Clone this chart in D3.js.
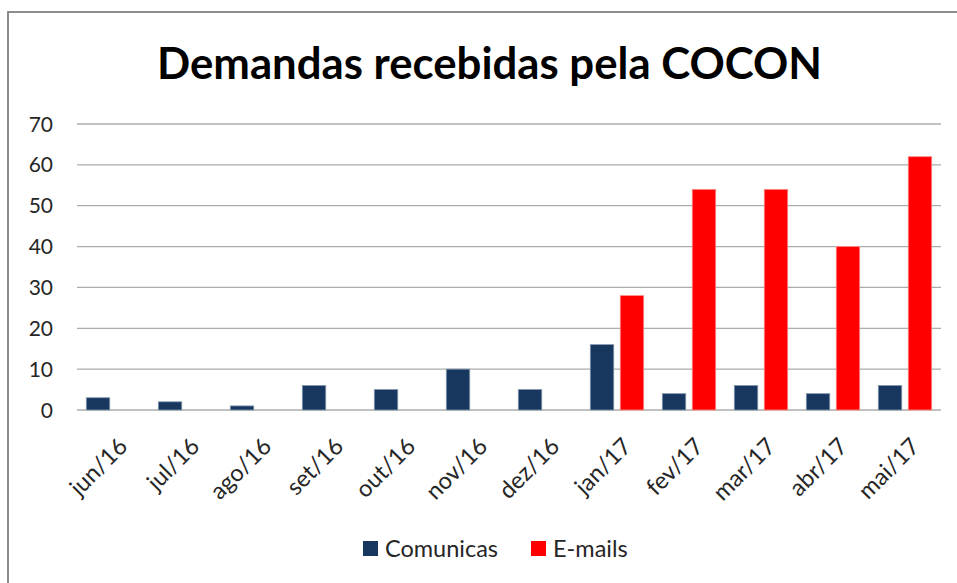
<!DOCTYPE html>
<html lang="pt">
<head>
    <meta charset="UTF-8">
    <title>Demandas recebidas pela COCON</title>
    <script src="https://d3js.org/d3.v7.min.js"></script>
    <style>
        body {
            margin: 0;
            background-color: #fff;
            font-family: Lato, "Open Sans", Arial, sans-serif;
        }
        .grid line {
            stroke: #acacac;
            stroke-width: 1.3px;
        }
        .tick-label {
            font-size: 21px;
            fill: #262626;
        }
        .cat-label {
            font-size: 23.5px;
            fill: #262626;
        }
    </style>
</head>
<body>
    <svg id="chart"></svg>

    <script>
        // data
        const months = ["jun/16", "jul/16", "ago/16", "set/16", "out/16", "nov/16",
                        "dez/16", "jan/17", "fev/17", "mar/17", "abr/17", "mai/17"];
        const comunicas = [3, 2, 1, 6, 5, 10, 5, 16, 4, 6, 4, 6];
        const emails = [null, null, null, null, null, null, null, 28, 54, 54, 40, 62];
        const seriesNames = ["Comunicas", "E-mails"];
        const seriesColors = ["#17375E", "#FF0000"];
        const yTicks = [0, 10, 20, 30, 40, 50, 60, 70];

        const width = 957;
        const height = 583;

        const svg = d3.select("#chart")
            .attr("width", width)
            .attr("height", height);

        // outer frame of the chart
        svg.append("rect")
            .attr("x", 8)
            .attr("y", 12)
            .attr("width", 1000)
            .attr("height", 1000)
            .attr("fill", "none")
            .attr("stroke", "#8c8c8c")
            .attr("stroke-width", 2);

        svg.append("text")
            .attr("x", 157)
            .attr("y", 79)
            .attr("textLength", 665)
            .attr("lengthAdjust", "spacingAndGlyphs")
            .style("font-size", "43px")
            .style("font-weight", "bold")
            .style("fill", "#000")
            .text("Demandas recebidas pela COCON");

        const x = d3.scaleBand()
            .domain(months)
            .range([77, 941]);

        const xInner = d3.scaleBand()
            .domain(seriesNames)
            .range([0, x.bandwidth()])
            .paddingInner(0.217)
            .paddingOuter(0.31);

        const y = d3.scaleLinear()
            .domain([0, 70])
            .range([410, 124]);

        // gridlines
        svg.append("g")
            .attr("class", "grid")
            .selectAll("line")
            .data(yTicks)
            .enter().append("line")
            .attr("x1", 77)
            .attr("x2", 941)
            .attr("y1", d => y(d))
            .attr("y2", d => y(d));

        // y labels
        svg.append("g")
            .selectAll("text")
            .data(yTicks)
            .enter().append("text")
            .attr("class", "tick-label")
            .attr("x", 53)
            .attr("y", d => y(d))
            .attr("dy", "0.36em")
            .attr("text-anchor", "end")
            .text(d => d);

        // bars
        const rows = months.map((m, i) => ({ month: m, values: [comunicas[i], emails[i]] }));

        const groups = svg.append("g")
            .selectAll("g")
            .data(rows)
            .enter().append("g")
            .attr("transform", d => `translate(${x(d.month)},0)`);

        groups.selectAll("rect")
            .data(d => d.values.map((v, k) => ({ name: seriesNames[k], value: v, k: k }))
                .filter(e => e.value != null))
            .enter().append("rect")
            .attr("x", d => xInner(d.name))
            .attr("width", xInner.bandwidth())
            .attr("y", d => y(d.value))
            .attr("height", d => y(0) - y(d.value))
            .attr("fill", d => seriesColors[d.k])
            .attr("stroke", d => d.k === 0 ? "#8497b0" : "#ff8c8c")
            .attr("stroke-width", 0.8);

        // x labels, rotated
        svg.append("g")
            .selectAll("text")
            .data(months)
            .enter().append("text")
            .attr("class", "cat-label")
            .attr("transform", d => `translate(${x(d) + x.bandwidth() / 2 + 4},436) rotate(-45)`)
            .attr("dy", "0.71em")
            .attr("text-anchor", "end")
            .text(d => d);

        // legend
        const legendX = [363, 531];
        const legend = svg.append("g")
            .selectAll("g")
            .data(seriesNames)
            .enter().append("g")
            .attr("transform", (d, i) => `translate(${legendX[i]},541)`);

        legend.append("rect")
            .attr("width", 15)
            .attr("height", 15)
            .attr("fill", (d, i) => seriesColors[i]);

        legend.append("text")
            .attr("class", "cat-label")
            .attr("x", 22)
            .attr("y", 7.5)
            .attr("dy", "0.36em")
            .text(d => d);
    </script>
</body>
</html>
